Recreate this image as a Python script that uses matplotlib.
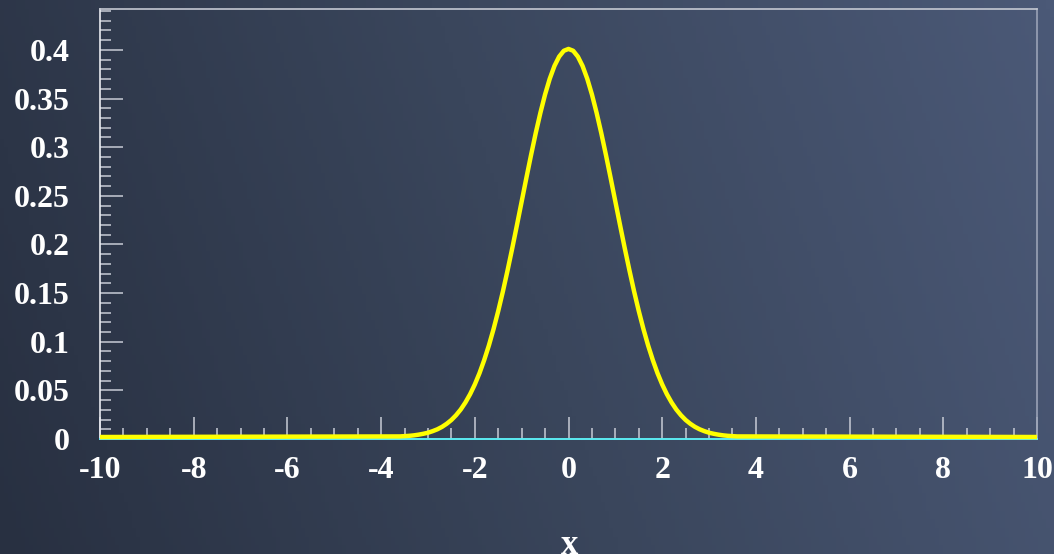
import numpy as np
import matplotlib
matplotlib.use("Agg")
import matplotlib.pyplot as plt
import matplotlib.transforms as mtransforms
from matplotlib.colors import LinearSegmentedColormap
from matplotlib.ticker import MultipleLocator, FormatStrFormatter

# Points (x, density)
x_vals = [-10.0,
          -3.6, -3.5, -3.4, -3.3, -3.2, -3.1, -3.0, -2.9, -2.8, -2.7, -2.6, -2.5,
          -2.4, -2.3, -2.2, -2.1, -2.0, -1.9, -1.8, -1.7, -1.6, -1.5, -1.4, -1.3,
          -1.2, -1.1, -1.0, -0.9, -0.8, -0.7, -0.6, -0.5, -0.4, -0.3, -0.2, -0.1,
          0.0,
          0.1, 0.2, 0.3, 0.4, 0.5, 0.6, 0.7, 0.8, 0.9, 1.0, 1.1, 1.2,
          1.3, 1.4, 1.5, 1.6, 1.7, 1.8, 1.9, 2.0, 2.1, 2.2, 2.3, 2.4,
          2.5, 2.6, 2.7, 2.8, 2.9, 3.0, 3.1, 3.2, 3.3, 3.4, 3.5, 3.6,
          10.0]
y_vals = [0.0,
          0.0006, 0.0009, 0.0012, 0.0017, 0.0024, 0.0033, 0.0044, 0.0060, 0.0079, 0.0104, 0.0136, 0.0175,
          0.0224, 0.0283, 0.0355, 0.0440, 0.0540, 0.0656, 0.0790, 0.0940, 0.1109, 0.1295, 0.1497, 0.1714,
          0.1942, 0.2179, 0.2420, 0.2661, 0.2897, 0.3123, 0.3332, 0.3521, 0.3683, 0.3814, 0.3910, 0.3970,
          0.3989,
          0.3970, 0.3910, 0.3814, 0.3683, 0.3521, 0.3332, 0.3123, 0.2897, 0.2661, 0.2420, 0.2179, 0.1942,
          0.1714, 0.1497, 0.1295, 0.1109, 0.0940, 0.0790, 0.0656, 0.0540, 0.0440, 0.0355, 0.0283, 0.0224,
          0.0175, 0.0136, 0.0104, 0.0079, 0.0060, 0.0044, 0.0033, 0.0024, 0.0017, 0.0012, 0.0009, 0.0006,
          0.0]
base_x = [-10.0, 10.0]
base_y = [0.0, 0.0]

fig = plt.figure(figsize=(10.54, 5.54), dpi=100)

#Background gradient
bg = fig.add_axes([0, 0, 1, 1], zorder=-10)
cmap = LinearSegmentedColormap.from_list("bg", ["#283041", "#3a465c", "#4b5977"])
gx, gy = np.meshgrid(np.linspace(0, 1, 256), np.linspace(0, 1, 64))
bg.imshow(0.85 * gx + 0.15 * gy, cmap=cmap, aspect="auto", extent=[0, 1, 0, 1], origin="lower")
bg.axis("off")

ax = fig.add_axes([100 / 1054, 1 - 439 / 554, 937 / 1054, 430 / 554])
ax.patch.set_alpha(0)

#Yellow curve sits a hair above the axis line, cyan line right on it
lift = mtransforms.ScaledTranslation(0, 2.0 / 100, fig.dpi_scale_trans)
ax.plot(base_x, base_y, color="#40e8f0", lw=1.2, zorder=4, clip_on=False)
ax.plot(x_vals, y_vals, color="#ffff00", lw=3.2, solid_joinstyle="round",
        solid_capstyle="butt", zorder=5, transform=ax.transData + lift, clip_on=False)

ax.set_xlim(-10, 10)
ax.set_ylim(0, 0.442)

ax.xaxis.set_major_locator(MultipleLocator(2))
ax.xaxis.set_minor_locator(MultipleLocator(0.5))
ax.yaxis.set_major_locator(MultipleLocator(0.05))
ax.yaxis.set_minor_locator(MultipleLocator(0.01))
ax.yaxis.set_major_formatter(FormatStrFormatter("%g"))
ax.xaxis.set_major_formatter(FormatStrFormatter("%g"))

tick_col = "#c8ccd6"
ax.tick_params(axis="both", which="both", direction="in", color=tick_col, width=1.1)
ax.tick_params(axis="y", which="major", length=16.5, pad=22)
ax.tick_params(axis="y", which="minor", length=8)
ax.tick_params(axis="x", which="major", length=16, pad=12)
ax.tick_params(axis="x", which="minor", length=8)

for lab in ax.get_xticklabels() + ax.get_yticklabels():
    lab.set_fontfamily("Liberation Serif")
    lab.set_fontweight("bold")
    lab.set_fontsize(23)
    lab.set_color("white")

ax.spines["left"].set_color("#e8eaf0")
ax.spines["bottom"].set_color("#ffffff")
ax.spines["top"].set_color("#c4c8d2")
ax.spines["right"].set_color("#9aa2b6")
for s in ax.spines.values():
    s.set_linewidth(1.2)

fig.text(570 / 1054, 1 - 554 / 554, "x", ha="center", va="baseline", color="white",
         fontfamily="Liberation Serif", fontweight="bold", fontsize=25)

fig.savefig("out.png", dpi=100)
